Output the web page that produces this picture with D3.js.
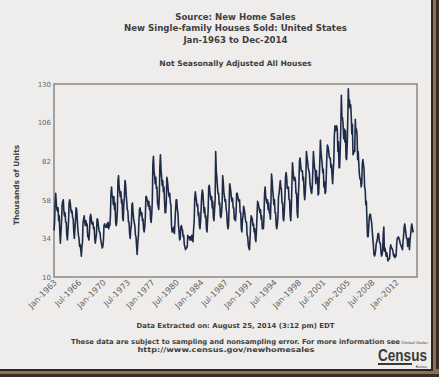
<!DOCTYPE html>
<html><head><meta charset="utf-8">
<script src="https://cdn.jsdelivr.net/npm/d3@7/dist/d3.min.js"></script>
<style>body{margin:0;background:#eeedeb}svg{display:block}</style>
</head><body><svg id="c" width="439" height="377"></svg>
<script>
// Monthly new single-family houses sold (thousands, NSA), starting Jan-1963
const sales1960s = [
 39,44,56,62,56,52,51,53,45,48,38,31,
 38,45,55,57,58,51,48,50,44,44,36,33,
 39,45,56,58,56,52,50,51,47,46,38,34,
 40,46,53,52,46,40,36,34,29,30,27,23,
 29,32,44,46,48,44,42,45,42,43,35,35,
 33,38,47,49,47,43,43,44,40,41,34,31,
 34,37,46,46,43,40,38,38,34,32,30,28];
const sales1970s = [
 29,33,42,43,42,41,41,43,41,44,40,42,
 42,48,62,66,60,60,55,60,52,56,44,42,
 45,52,70,73,66,63,60,63,56,58,47,45,
 55,60,70,68,62,57,52,51,44,44,37,34,
 40,42,55,56,50,46,44,42,36,35,29,24,
 31,35,44,52,53,50,48,50,45,46,40,38,
 41,47,60,60,58,57,54,57,52,54,46,44,
 49,58,80,85,76,73,68,72,65,66,56,54,
 52,60,78,86,77,72,67,70,63,66,57,50,
 50,56,72,70,66,62,60,62,56,55,42,38];
const sales1980s = [
 38,40,41,37,44,52,58,58,52,50,42,38,
 33,34,41,42,40,39,35,36,30,29,27,28,
 28,29,36,34,34,35,33,35,33,36,33,32,
 40,45,59,63,60,57,54,55,48,50,42,40,
 45,53,61,64,62,56,50,53,47,48,40,38,
 45,52,66,67,63,60,58,60,53,57,47,45,
 52,58,88,76,72,66,62,62,55,56,48,47,
 50,56,73,69,63,60,57,58,52,50,43,40,
 42,54,68,66,63,59,57,59,53,53,46,46,
 45,50,62,62,60,58,57,58,50,50,40,38];
const sales1990s = [
 46,48,54,52,50,46,44,44,36,35,30,28,
 27,34,43,48,47,46,42,43,38,40,34,32,
 39,48,57,56,54,52,50,52,46,48,40,40,
 40,48,62,66,60,58,56,58,52,56,50,50,
 46,58,74,70,64,60,55,58,50,50,42,40,
 43,48,60,62,66,70,66,64,56,56,46,45,
 52,60,72,75,72,65,66,66,58,58,48,45,
 54,68,81,76,72,70,72,70,62,62,50,47,
 60,68,82,84,80,76,76,76,70,72,62,58,
 63,72,88,84,82,78,76,75,68,66,63,62];
const sales2000s = [
 67,77,88,82,78,76,68,76,70,72,61,62,
 72,83,95,88,84,80,75,77,66,69,62,63,
 72,85,92,91,89,85,84,84,78,80,73,68,
 76,82,98,104,101,102,104,102,88,94,78,78,
 89,102,123,109,109,105,96,102,94,101,84,83,
 92,109,127,116,120,115,117,110,99,105,86,87,
 89,88,108,100,102,98,83,88,80,74,71,71,
 66,68,80,83,80,77,66,64,55,57,45,35,
 35,41,47,49,49,46,44,39,34,30,24,23,
 24,27,31,32,34,37,37,33,31,31,26,23];
const sales2010s = [
 24,27,36,41,26,28,26,23,25,23,20,21,
 21,22,28,30,28,28,27,25,23,24,22,23,
 23,30,34,34,35,34,33,31,30,29,28,27,
 32,36,41,43,40,37,34,34,29,31,34,27,
 33,36,40,43,41,38,39];

const yTicks = [10,34,58,82,106,130];
const xTickLabels = ["Jan-1963","Jul-1966","Jan-1970","Jul-1973","Jan-1977","Jul-1980",
 "Jan-1984","Jul-1987","Jan-1991","Jul-1994","Jan-1998","Jul-2001","Jan-2005","Jul-2008","Jan-2012"];
const titleLines = ["Source: New Home Sales","New Single-family Houses Sold: United States","Jan-1963 to Dec-2014"];
const subtitle = "Not Seasonally Adjusted All Houses";
const yTitle = "Thousands of Units";
const footLines = ["Data Extracted on: August 25, 2014 (3:12 pm) EDT",
 "These data are subject to sampling and nonsampling error. For more information see",
 "http://www.census.gov/newhomesales"];

const sales = [].concat(sales1960s, sales1970s, sales1980s, sales1990s, sales2000s, sales2010s);
const data = sales.map((v,i)=>({date:new Date(1963, i, 1), value:v}));

const svg = d3.select("#c");
const W=439,H=377;
const M={l:54,r:417,t:84,b:277};
const FONT="'DejaVu Sans', Verdana, sans-serif";

svg.append("rect").attr("width",W).attr("height",H).attr("fill","#eeedeb");

// frame shadow (right & bottom)
svg.append("rect").attr("x",431).attr("y",0).attr("width",8).attr("height",H).attr("fill","#8a7258");
svg.append("rect").attr("x",431).attr("y",0).attr("width",2).attr("height",H).attr("fill","#2e241b");
svg.append("rect").attr("x",436).attr("y",0).attr("width",3).attr("height",H).attr("fill","#3a2d22");
svg.append("rect").attr("x",0).attr("y",369).attr("width",W).attr("height",8).attr("fill","#8a7258");
svg.append("rect").attr("x",0).attr("y",369).attr("width",433).attr("height",2).attr("fill","#2e241b");
svg.append("rect").attr("x",0).attr("y",374).attr("width",W).attr("height",3).attr("fill","#3a2d22");

const x = d3.scaleTime().domain([new Date(1963,0,1), new Date(2015,0,1)]).range([M.l, M.r]);
const y = d3.scaleLinear().domain([10,130]).range([M.b, M.t]);

// titles
svg.append("g").selectAll("text").data(titleLines).join("text")
  .attr("x",235.5).attr("y",(d,i)=>20+i*11.3)
  .attr("text-anchor","middle").attr("font-family",FONT).attr("font-weight","bold")
  .attr("font-size",8.6).attr("fill","#3f3f3f").text(d=>d);
svg.append("text").attr("x",235.5).attr("y",66).attr("text-anchor","middle")
  .attr("font-family",FONT).attr("font-weight","bold").attr("font-size",7.6)
  .attr("fill","#3f3f3f").text(subtitle);

// plot frame
svg.append("rect").attr("x",M.l).attr("y",M.t).attr("width",M.r-M.l).attr("height",M.b-M.t)
  .attr("fill","none").attr("stroke","#8c8782").attr("stroke-width",1.5);

// y axis
const ya = svg.append("g").attr("transform",`translate(${M.l},0)`)
  .call(d3.axisLeft(y).tickValues(yTicks).tickSize(0).tickPadding(3).tickFormat(d3.format("d")));
ya.select(".domain").remove();
ya.selectAll("text").attr("font-family",FONT).attr("font-size",7).attr("fill","#666");

// x axis
const parse = d3.timeParse("%b-%Y");
const xa = svg.append("g").attr("transform",`translate(0,${M.b})`)
  .call(d3.axisBottom(x).tickValues(xTickLabels.map(parse)).tickSize(0).tickFormat(d3.timeFormat("%b-%Y")));
xa.select(".domain").remove();
xa.selectAll("text").attr("x",0).attr("y",0).attr("dy",0)
  .attr("transform","translate(3,6) rotate(-45)").style("text-anchor","end")
  .attr("font-family",FONT).attr("font-size",8.2).attr("fill","#666");

// y title
svg.append("text").attr("transform","translate(19,185) rotate(-90)").attr("text-anchor","middle")
  .attr("font-family",FONT).attr("font-weight","bold").attr("font-size",7.4)
  .attr("fill","#444").text(yTitle);

// line
svg.append("path").datum(data)
  .attr("d", d3.line().x(d=>x(d.date)).y(d=>y(d.value)))
  .attr("fill","none").attr("stroke","#1e2b48").attr("stroke-width",1.6).attr("stroke-linejoin","round");

// footer
const footPos = [{x:235.5,y:328,w:198},{x:235.5,y:344,w:329},{x:226,y:352,w:177}];
svg.append("g").selectAll("text").data(footLines).join("text")
  .attr("x",(d,i)=>footPos[i].x).attr("y",(d,i)=>footPos[i].y).attr("text-anchor","middle")
  .attr("font-family",FONT).attr("font-weight","bold").attr("font-size",6.9)
  .attr("textLength",(d,i)=>footPos[i].w).attr("lengthAdjust","spacingAndGlyphs")
  .attr("fill","#3f3f3f").text(d=>d);

// Census logo
const lg = svg.append("g");
lg.append("text").attr("x",428).attr("y",343.5).attr("text-anchor","end").attr("font-family","'Liberation Serif', serif")
  .attr("font-style","italic").attr("font-size",5).attr("fill","#444").text("United States");
lg.append("text").attr("x",378).attr("y",361).attr("font-family","'Liberation Sans', Arial, sans-serif")
  .attr("font-weight","bold").attr("font-size",17).attr("textLength",49).attr("lengthAdjust","spacingAndGlyphs")
  .attr("fill","#3a3a3a").text("Census");
lg.append("rect").attr("x",378).attr("y",363).attr("width",34).attr("height",2).attr("fill","#3a3a3a");
lg.append("text").attr("x",427).attr("y",367.5).attr("text-anchor","end").attr("font-family","'Liberation Sans', sans-serif")
  .attr("font-size",3.5).attr("fill","#444").text("Bureau");
</script></body></html>
